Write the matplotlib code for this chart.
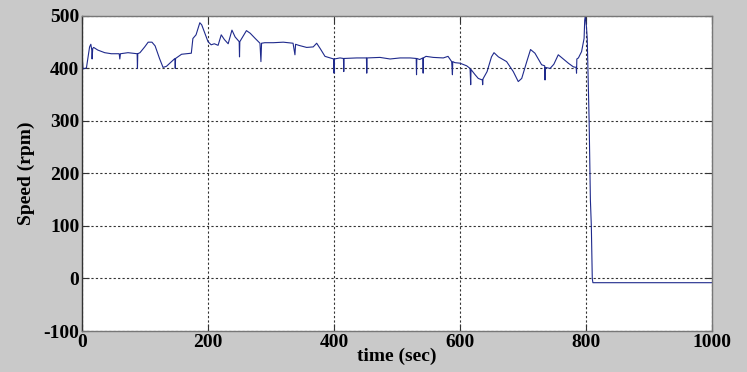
import numpy as np
import matplotlib
matplotlib.use("Agg")
import matplotlib.pyplot as plt

# time (sec) / speed (rpm)
time = [0, 0.5, 1.6, 7, 12, 14, 15.5, 16, 17, 18.5, 25, 36, 46.6, 59, 60, 61,
        73, 87.5, 88, 88.5, 92, 99.5, 105, 111, 116, 123, 128.6, 134, 142,
        147.5, 148, 148.5, 158, 173.5, 176, 181, 187, 190, 195, 200, 205, 210,
        216, 221, 226, 232, 238, 243, 249.5, 250, 250.5, 255, 261, 267, 275,
        282.5, 284, 285, 290, 303.7, 319.5, 335, 338, 339, 344, 356.6, 367,
        372.5, 378, 385.7, 393.7, 399.5, 400, 400.5, 409.5, 415, 415.5, 416,
        436, 451.5, 452, 452.5, 473, 489, 505, 521, 530.5, 531, 531.5, 536,
        541, 541.5, 542, 546, 557.6, 573.5, 581, 586.8, 588, 588.5, 592, 600,
        610.6, 616, 617, 617.5, 624, 629, 635.5, 636, 636.5, 643, 650, 654,
        661, 674, 684.6, 692.5, 698, 706, 712, 719, 729.6, 734.5, 735, 735.5,
        743, 749, 756, 764, 772, 780, 784.5, 785, 785.5, 788, 793, 797, 798,
        799, 800.7, 802, 805, 807, 808.5, 810, 811, 1000]
speed = [50, 419, 399, 401, 441, 446, 435, 418, 438, 440, 435, 430, 428, 428,
         418, 428, 430, 428, 400, 428, 430, 441, 450, 450, 443, 419, 402, 404,
         413, 419, 400, 419, 427, 429, 457, 464, 487, 483, 467, 451, 445, 447,
         444, 464, 455, 447, 473, 460, 451, 422, 451, 460, 472, 467, 457, 448,
         413, 448, 449, 449, 450, 448, 426, 446, 444, 440, 441, 448, 438, 423,
         420, 418, 391, 418, 420, 419, 394, 419, 420, 420, 391, 420, 421, 418,
         420, 420, 419, 388, 419, 417, 420, 391, 420, 423, 421, 420, 423, 413,
         388, 413, 411, 410, 405, 400, 369, 398, 388, 381, 378, 369, 380, 394,
         422, 430, 422, 413, 394, 375, 381, 413, 436, 429, 407, 405, 378, 402,
         400, 408, 426, 418, 410, 403, 402, 391, 418, 420, 432, 457, 492, 500,
         480, 457, 300, 150, 100, 0, -8, -8]

xticks = [0, 200, 400, 600, 800, 1000]
yticks = [-100, 0, 100, 200, 300, 400, 500]

bg = "#c9c9c9"
fig = plt.figure(figsize=(7.47, 3.72), dpi=100, facecolor=bg)
ax = fig.add_axes([0.1098, 0.1102, 0.8433, 0.847])

ax.plot(time, speed, color="#1f2a8c", lw=0.8)

ax.set_xlim(0, 1000)
ax.set_ylim(-100, 500)
ax.set_xticks(xticks)
ax.set_yticks(yticks)

tfont = dict(family="Liberation Serif", weight="bold", size=14)
ax.set_xticklabels([str(v) for v in xticks], fontdict=tfont)
ax.set_yticklabels([str(v) for v in yticks], fontdict=tfont)
ax.tick_params(direction="in", length=5, width=0.8, top=True, right=True,
               pad=2, colors="#333333", labelcolor="black")

ax.grid(True, color="#333333", ls=(0, (2, 2)), lw=0.8)

for s in ax.spines.values():
    s.set_color("#777777")
    s.set_linewidth(1.0)
ax.spines["left"].set_color("#333333")

ax.set_xlabel("time (sec)", fontdict=tfont, labelpad=-2)
ax.set_ylabel("Speed (rpm)", fontdict=tfont, labelpad=6)

fig.savefig("out.png", dpi=100, facecolor=bg)
